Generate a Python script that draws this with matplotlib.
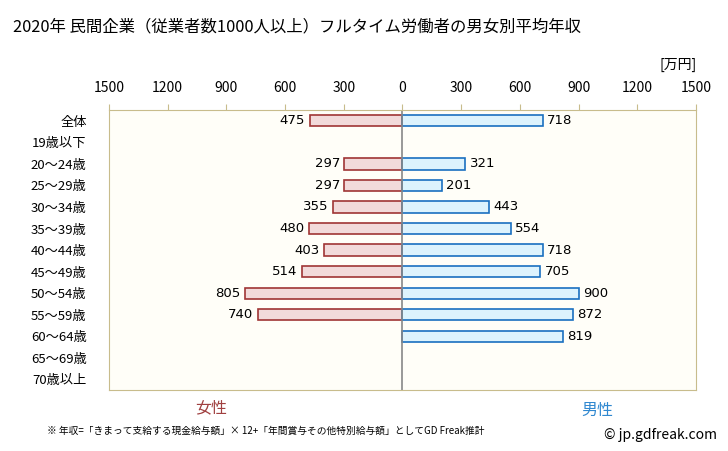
import numpy as np
import matplotlib
matplotlib.use("Agg")
import matplotlib.pyplot as plt

plt.rcParams['font.family'] = ['Noto Sans CJK JP', 'DejaVu Sans']

categories = ["全体", "19歳以下", "20～24歳", "25～29歳", "30～34歳", "35～39歳",
              "40～44歳", "45～49歳", "50～54歳", "55～59歳", "60～64歳",
              "65～69歳", "70歳以上"]
female = [475, None, 297, 297, 355, 480, 403, 514, 805, 740, None, None, None]
male = [718, None, 321, 201, 443, 554, 718, 705, 900, 872, 819, None, None]
ticks = [-1500, -1200, -900, -600, -300, 0, 300, 600, 900, 1200, 1500]

fig = plt.figure(figsize=(7.28, 4.51), dpi=100)
ax = fig.add_axes([0.1497, 0.135, 0.8063, 0.621])
ax.set_facecolor("#FFFEF8")

y = np.arange(len(categories))
for i, (f, m) in enumerate(zip(female, male)):
    if f is not None:
        ax.barh(i, -f, height=0.52, color="#F2DADA", edgecolor="#A03535", linewidth=1.2)
        ax.text(-f - 22, i, str(f), ha="right", va="center", fontsize=9.5, family="DejaVu Sans")
    if m is not None:
        ax.barh(i, m, height=0.52, color="#DDF3FD", edgecolor="#1A70C0", linewidth=1.2)
        ax.text(m + 22, i, str(m), ha="left", va="center", fontsize=9.5, family="DejaVu Sans")

ax.axvline(0, color="#888888", linewidth=1.2)
ax.set_xlim(-1500, 1500)
ax.set_ylim(len(categories) - 0.5, -0.5)
ax.set_yticks(y)
ax.set_yticklabels(categories, fontsize=9.5)
ax.tick_params(axis="y", length=0, pad=16)
ax.xaxis.tick_top()
ax.set_xticks(ticks)
ax.set_xticklabels([str(abs(t)) for t in ticks], fontsize=10)
ax.tick_params(axis="x", length=4, color="#C8BC8C", pad=7)
for s in ax.spines.values():
    s.set_color("#C8BC8C")

fig.text(0.018, 0.94, "2020年 民間企業（従業者数1000人以上）フルタイム労働者の男女別平均年収",
         fontsize=11.8, va="center", ha="left")
fig.text(0.957, 0.855, "[万円]", fontsize=10, ha="right", va="center")
fig.text(0.29, 0.095, "女性", fontsize=11.5, color="#A04040", ha="center", va="center")
fig.text(0.82, 0.09, "男性", fontsize=11.5, color="#3088D0", ha="center", va="center")
fig.text(0.065, 0.045, "※ 年収=「きまって支給する現金給与額」× 12+「年間賞与その他特別給与額」としてGD Freak推計",
         fontsize=7, ha="left", va="center")
fig.text(0.985, 0.035, "© jp.gdfreak.com", fontsize=10, ha="right", va="center")

fig.savefig("out.png", dpi=100)
